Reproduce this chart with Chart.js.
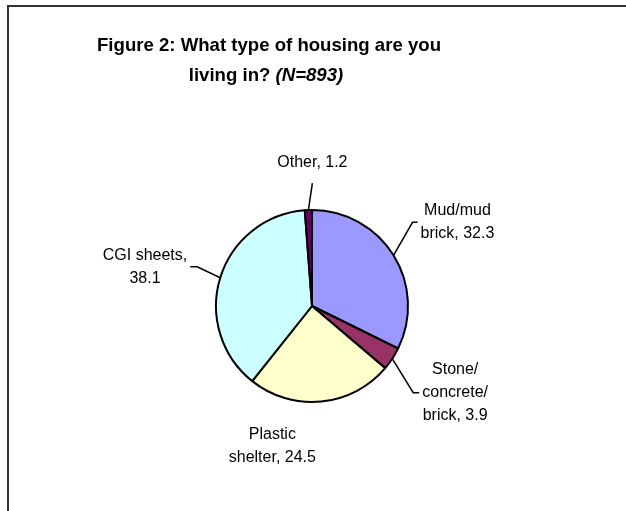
<!DOCTYPE html>
<html>
<head>
<meta charset="utf-8">
<script src="https://cdn.jsdelivr.net/npm/chart.js@4"></script>
<style>
  body { margin: 0; background: #fff; }
  #wrap { position: relative; width: 626px; height: 511px; overflow: hidden; }
  #frame { position: absolute; left: 7px; top: 5px; width: 700px; height: 600px;
           border-left: 2px solid #333; border-top: 2px solid #333; }
  #myChart { position: absolute; left: 0; top: 0; }
</style>
</head>
<body>
<div id="wrap">
  <div id="frame"></div>
  <canvas id="myChart" width="626" height="511"></canvas>
</div>
<script>
// housing types, percent of respondents
var categories = ['Mud/mud brick', 'Stone/concrete/brick', 'Plastic shelter', 'CGI sheets', 'Other'];
var values = [32.3, 3.9, 24.5, 38.1, 1.2];
var colours = ['#9999FF', '#993366', '#FFFFCC', '#CCFFFF', '#660066'];

// how each data label wraps, {v} is swapped for the value
var labelLines = [
    ['Mud/mud', 'brick, {v}'],
    ['Stone/', 'concrete/', 'brick, {v}'],
    ['Plastic', 'shelter, {v}'],
    ['CGI sheets,', '{v}'],
    ['Other, {v}']
];

var titleLines = ['Figure 2: What type of housing are you', 'living in?'];
var titleN = '(N=893)';

// leader line bends, offsets from the slice edge
var leaders = [
    { elbow: [19, -33], end: [24, -33], align: 'left' },
    { elbow: [21, 34], end: [27, 34], align: 'left' },
    { elbow: null, end: [-49, 33], align: 'center' },
    { elbow: [-23, -11], end: [-30, -11], align: 'right' },
    { elbow: null, end: [4, -27], align: 'above' }
];

var labelFont = '16px "Liberation Sans", Arial, sans-serif';
var lineGap = 23;

var dataLabels = {
    id: 'dataLabels',
    afterDatasetsDraw: function (chart) {
        var ctx = chart.ctx;
        var meta = chart.getDatasetMeta(0);
        ctx.save();
        ctx.font = labelFont;
        ctx.fillStyle = '#000';
        ctx.strokeStyle = '#000';
        ctx.lineWidth = 1.5;
        meta.data.forEach(function (arc, i) {
            var p = arc.getProps(['x', 'y', 'startAngle', 'endAngle', 'outerRadius'], true);
            var mid = (p.startAngle + p.endAngle) / 2;
            var ex = p.x + Math.cos(mid) * p.outerRadius;
            var ey = p.y + Math.sin(mid) * p.outerRadius;
            var L = leaders[i];
            var endX = ex + L.end[0];
            var endY = ey + L.end[1];
            var lines = labelLines[i].map(function (s) { return s.replace('{v}', values[i]); });

            if (L.align !== 'center') {
                ctx.beginPath();
                ctx.moveTo(ex, ey);
                if (L.elbow) ctx.lineTo(ex + L.elbow[0], ey + L.elbow[1]);
                ctx.lineTo(endX, endY);
                ctx.stroke();
            }

            var widest = 0;
            lines.forEach(function (s) { widest = Math.max(widest, ctx.measureText(s).width); });
            var cx, top;
            if (L.align === 'left') { cx = endX + 3 + widest / 2; top = endY - (lines.length - 1) * lineGap / 2; }
            else if (L.align === 'right') { cx = endX - 3 - widest / 2; top = endY - (lines.length - 1) * lineGap / 2; }
            else if (L.align === 'above') { cx = endX; top = endY - 20 - (lines.length - 1) * lineGap; }
            else { cx = endX; top = endY; }

            ctx.textAlign = 'center';
            ctx.textBaseline = 'middle';
            lines.forEach(function (s, k) { ctx.fillText(s, cx, top + k * lineGap); });
        });
        ctx.restore();
    }
};

var chartTitle = {
    id: 'chartTitle',
    afterDraw: function (chart) {
        var ctx = chart.ctx;
        var bold = 'bold 18.6px "Liberation Sans", Arial, sans-serif';
        var boldItalic = 'italic bold 18.6px "Liberation Sans", Arial, sans-serif';
        ctx.save();
        ctx.fillStyle = '#000';
        ctx.textBaseline = 'middle';
        ctx.textAlign = 'center';
        ctx.font = bold;
        ctx.fillText(titleLines[0], 269, 46);
        // second line: plain part then italic N
        var plain = titleLines[1] + ' ';
        var w1 = ctx.measureText(plain).width;
        ctx.font = boldItalic;
        var w2 = ctx.measureText(titleN).width;
        var x0 = 266 - (w1 + w2) / 2;
        ctx.textAlign = 'left';
        ctx.font = bold;
        ctx.fillText(plain, x0, 76);
        ctx.font = boldItalic;
        ctx.fillText(titleN, x0 + w1, 76);
        ctx.restore();
    }
};

var myChart = document.getElementById('myChart').getContext('2d');

var pieChart = new Chart(myChart, {
    type: 'pie',
    data: {
        labels: categories,
        datasets: [{
            data: values,
            backgroundColor: colours,
            borderColor: '#000',
            borderWidth: 2
        }]
    },
    options: {
        responsive: false,
        animation: false,
        devicePixelRatio: 1,
        layout: { padding: { left: 215, right: 217, top: 209, bottom: 108 } },
        plugins: {
            legend: { display: false },
            tooltip: { enabled: false }
        }
    },
    plugins: [dataLabels, chartTitle]
});
</script>
</body>
</html>
